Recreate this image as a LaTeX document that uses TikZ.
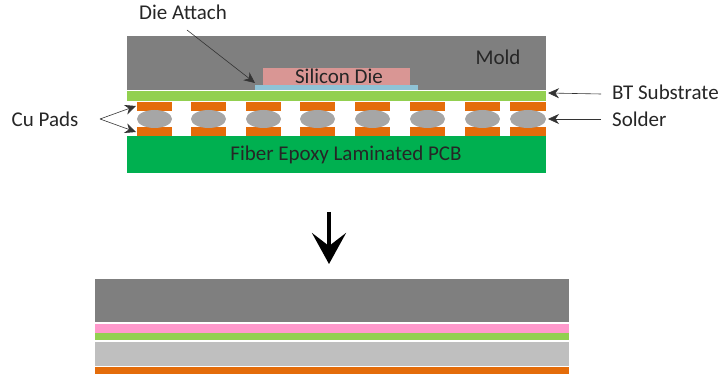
\documentclass[tikz,border=0pt]{standalone}
\usepackage{fontspec}
\usepackage{xcolor}
\setmainfont{Carlito}
\usetikzlibrary{arrows.meta, positioning}
\definecolor{moldc}{HTML}{7F7F7F}
\definecolor{diec}{HTML}{D99694}
\definecolor{attachc}{HTML}{8FC3D6}
\definecolor{btc}{HTML}{92D050}
\definecolor{padc}{HTML}{E46C0A}
\definecolor{solderc}{HTML}{A6A6A6}
\definecolor{pcbc}{HTML}{00B050}
\definecolor{pinkc}{HTML}{FF99CC}
\definecolor{lgreyc}{HTML}{BFBFBF}
\tikzset{
  lbl/.style={font=\fontsize{21}{21}\selectfont, inner sep=1pt, text=black!85},
  leader/.style={-{Stealth[length=11pt, width=10pt]}, line width=0.6pt, draw=black!80},
  bigarrow/.style={-{Stealth[length=31pt, width=34pt, inset=13pt]}, line width=4pt, draw=black},
}
\begin{document}
\begin{tikzpicture}[x=1pt, y=-1pt]
  \useasboundingbox (0,0) rectangle (720,379);
  % upper stack
  \fill[moldc] (127,36) rectangle (546,90);
  \fill[diec] (263,68) rectangle (410,85);
  \fill[attachc] (255,85) rectangle (418,90);
  \fill[btc] (127,91) rectangle (546,101);
  \fill[pcbc] (127,136) rectangle (546,173);
  \foreach \xa/\xb in {137/172, 191/226, 246/281, 300/335, 355/390, 410/445, 465/500, 510/546} {
    \fill[padc] (\xa,102) rectangle (\xb,111);
    \fill[padc] (\xa,127) rectangle (\xb,136);
    \fill[solderc] ({(\xa+\xb)/2},119) ellipse [x radius={(\xb-\xa)/2}, y radius=9];
  }
  % lower stack
  \fill[moldc] (95,279) rectangle (569,322);
  \fill[pinkc] (95,324) rectangle (569,333);
  \fill[btc] (95,333) rectangle (569,340);
  \fill[lgreyc] (95,342) rectangle (569,366);
  \fill[padc] (95,367) rectangle (569,374);
  % labels
  \node[lbl] (dielbl) at (183,12) {Die Attach};
  \node[lbl] (moldlbl) at (498,57) {Mold};
  \node[lbl] (silicon) at (339,76) {Silicon Die};
  \node[lbl] (pcb) at (346,155) {Fiber Epoxy Laminated PCB};
  \node[lbl] (culbl) at (45,119) {Cu Pads};
  \node[lbl, anchor=west] (btlbl) at (611,92) {BT Substrate};
  \node[lbl, anchor=west] (solderlbl) at (611,119) {Solder};
  % leader ends
  \coordinate (attachpt) at (255,83);
  \coordinate (cusplit) at (100,119);
  \coordinate (padtop) at (136,106);
  \coordinate (padbot) at (136,132);
  \coordinate (btpt) at (548,93);
  \coordinate (solderpt) at (548,119);
  \coordinate (btfree) at (601,94);
  \coordinate (solderfree) at (601,119);
  \coordinate (diefree) at (187,30);
  \coordinate (bigtop) at (329,212);
  \coordinate (bigtip) at (329,264);
  \draw[leader] (diefree) -- (attachpt);
  \draw[leader] (cusplit) -- (padtop);
  \draw[leader] (cusplit) -- (padbot);
  \draw[leader] (btfree) -- (btpt);
  \draw[leader] (solderfree) -- (solderpt);
  \draw[bigarrow] (bigtop) -- (bigtip);
\end{tikzpicture}
\end{document}
